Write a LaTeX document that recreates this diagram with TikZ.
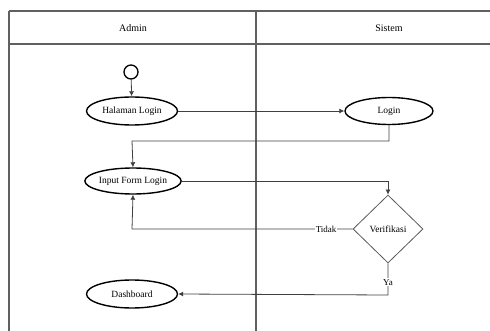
\documentclass[tikz,border=0pt]{standalone}
\usepackage{fontspec}
\setmainfont{Liberation Serif}
\usetikzlibrary{shapes.geometric,arrows.meta}
\begin{document}
\begin{tikzpicture}[x=1pt,y=-1pt,
  lane/.style={draw=gray!75!black,line width=1.3pt},
  act/.style={ellipse,draw=black,line width=1.4pt,minimum width=91pt,minimum height=28pt,inner sep=0pt,font=\fontsize{9.5}{11}\selectfont},
  dec/.style={diamond,draw=gray!70!black,line width=0.8pt,minimum width=70pt,minimum height=68pt,inner sep=0pt,aspect=1,font=\fontsize{9.5}{11}\selectfont},
  start/.style={circle,draw=black,line width=1.3pt,minimum size=14pt,inner sep=0pt,fill=white},
  arr/.style={draw=gray!50!black,line width=0.8pt,-{Latex[length=5pt,width=5pt]}},
  lab/.style={fill=white,inner sep=1pt,font=\fontsize{9}{10}\selectfont},
  hdr/.style={font=\fontsize{10}{12}\selectfont}]
\useasboundingbox (0,0) rectangle (490,331);
% swimlanes
\draw[lane] (9,11) -- (490,11);
\draw[lane] (9,44) -- (490,44);
\draw[lane] (9,11) -- (9,331);
\draw[lane] (256,11) -- (256,331);
\node[hdr] (hA) at (133,28) {Admin};
\node[hdr] (hS) at (389,28) {Sistem};
% nodes
\node[start] (s) at (131,72) {};
\node[act] (hal) at (132,111) {Halaman Login};
\node[act,minimum width=88pt,minimum height=27pt] (log) at (389,111) {Login};
\node[act,minimum width=90pt,minimum height=26pt] (inp) at (133,181) {Input Form Login};
\node[dec] (ver) at (388,229) {Verifikasi};
\node[act] (dash) at (132,294) {Dashboard};
\coordinate (c1) at (132,141);
\coordinate (c2) at (132,229);
\coordinate (c3) at (388,295);
% connectors
\draw[arr] (s) -- (hal);
\draw[arr] (hal) -- (log);
\draw[arr] (log.south) |- (c1) -- (inp.north);
\draw[arr] (inp.east) -| (ver.north);
\draw[arr] (ver.west) -- node[lab,pos=0.12]{Tidak} (c2) -- (inp.south);
\draw[arr] (ver.south) -- node[lab,pos=0.6]{Ya} (c3) -- (dash.east);
\end{tikzpicture}
\end{document}
